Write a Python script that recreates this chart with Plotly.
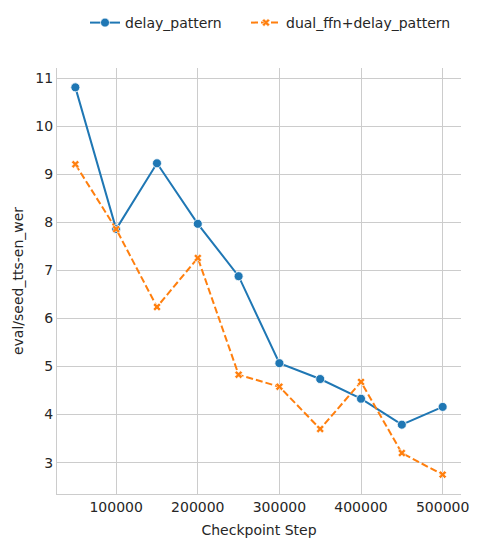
import plotly.graph_objects as go

steps = [50000, 100000, 150000, 200000, 250000, 300000, 350000, 400000, 450000, 500000]
delay_pattern = [10.81, 7.86, 9.23, 7.97, 6.88, 5.07, 4.74, 4.33, 3.79, 4.16]
dual_ffn_delay = [9.21, 7.86, 6.24, 7.26, 4.83, 4.58, 3.70, 4.68, 3.20, 2.75]
x_ticks = [100000, 200000, 300000, 400000, 500000]
y_ticks = [3, 4, 5, 6, 7, 8, 9, 10, 11]

fig = go.Figure()
fig.add_trace(go.Scatter(
    x=steps, y=delay_pattern, mode="lines+markers", name="delay_pattern",
    line=dict(color="#1f77b4", width=2), legend="legend",
    marker=dict(symbol="circle", size=9, color="#1f77b4", line=dict(color="white", width=0.8)),
))
fig.add_trace(go.Scatter(
    x=steps, y=dual_ffn_delay, mode="lines+markers", name="dual_ffn+delay_pattern",
    line=dict(color="#ff7f0e", width=2, dash="7px,3px"), legend="legend2",
    marker=dict(symbol="x", size=7, color="#ff7f0e", line=dict(color="white", width=0.6)),
))

leg_common = dict(orientation="h", xref="container", yref="container", xanchor="left",
                  y=(548 - 23) / 548, yanchor="middle", font=dict(size=14), itemwidth=30)
fig.update_layout(
    width=479, height=548,
    margin=dict(l=57, r=18, t=68, b=54, autoexpand=False),
    paper_bgcolor="white", plot_bgcolor="white",
    font=dict(family="DejaVu Sans", size=14, color="#262626"),
    showlegend=True,
    legend=dict(x=85 / 479, **leg_common),
    legend2=dict(x=246 / 479, **leg_common),
)
fig.update_xaxes(
    range=[27500, 522500], tickvals=x_ticks, ticktext=[str(v) for v in x_ticks],
    showgrid=True, gridcolor="#cccccc", gridwidth=1, automargin=False,
    showline=True, linecolor="#cccccc", linewidth=1, zeroline=False,
    ticks="", ticklen=0, tickfont=dict(size=14),
    title=dict(text="Checkpoint Step", font=dict(size=14), standoff=11),
)
fig.update_yaxes(
    range=[2.347, 11.213], tickvals=y_ticks, automargin=False,
    showgrid=True, gridcolor="#cccccc", gridwidth=1,
    showline=True, linecolor="#cccccc", linewidth=1, zeroline=False,
    ticks="", ticklen=0, tickfont=dict(size=14),
    title=dict(text="eval/seed_tts-en_wer", font=dict(size=14), standoff=8),
)

fig.write_html("out.html", config={"displayModeBar": False},
               post_script="document.body.style.margin='0';document.body.style.padding='0';")
